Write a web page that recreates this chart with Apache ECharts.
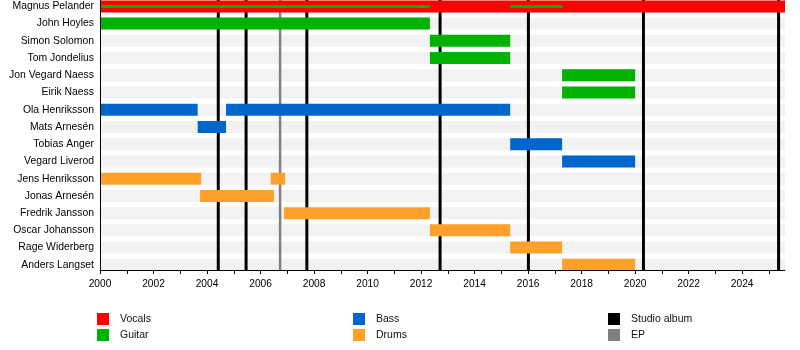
<!DOCTYPE html>
<html>
<head>
<meta charset="utf-8">
<script src="https://cdn.jsdelivr.net/npm/echarts@6/dist/echarts.min.js"></script>
<style>
  html, body { margin: 0; padding: 0; background: #fff; }
  #chart { width: 800px; height: 350px; }
</style>
</head>
<body>
<div id="chart"></div>
<script>
// Band line-up, top to bottom
const members = [
  'Magnus Pelander', 'John Hoyles', 'Simon Solomon', 'Tom Jondelius',
  'Jon Vegard Naess', 'Eirik Naess', 'Ola Henriksson', 'Mats Arnesén',
  'Tobias Anger', 'Vegard Liverod', 'Jens Henriksson', 'Jonas Arnesén',
  'Fredrik Jansson', 'Oscar Johansson', 'Rage Widerberg', 'Anders Langset'
];

const timelineStart = 2000;
const timelineEnd = 2025.6;
const yearTicks = [2000, 2001, 2002, 2003, 2004, 2005, 2006, 2007, 2008, 2009, 2010, 2011, 2012,
  2013, 2014, 2015, 2016, 2017, 2018, 2019, 2020, 2021, 2022, 2023, 2024, 2025];
const yearLabels = [2000, 2002, 2004, 2006, 2008, 2010, 2012, 2014, 2016, 2018, 2020, 2022, 2024];

// [member, from, to]
const vocals = [
  ['Magnus Pelander', 2000, 2025.6]
];
const guitar = [
  ['John Hoyles', 2000, 2012.33],
  ['Simon Solomon', 2012.33, 2015.33],
  ['Tom Jondelius', 2012.33, 2015.33],
  ['Jon Vegard Naess', 2017.27, 2020.0],
  ['Eirik Naess', 2017.27, 2020.0]
];
// guitar played alongside lead vocals
const guitarSecondary = [
  ['Magnus Pelander', 2000, 2012.33],
  ['Magnus Pelander', 2015.33, 2017.27]
];
const bass = [
  ['Ola Henriksson', 2000, 2003.65],
  ['Ola Henriksson', 2004.71, 2015.33],
  ['Mats Arnesén', 2003.65, 2004.71],
  ['Tobias Anger', 2015.33, 2017.27],
  ['Vegard Liverod', 2017.27, 2020.0]
];
const drums = [
  ['Jens Henriksson', 2000, 2003.78],
  ['Jens Henriksson', 2006.38, 2006.92],
  ['Jonas Arnesén', 2003.74, 2006.5],
  ['Fredrik Jansson', 2006.88, 2012.33],
  ['Oscar Johansson', 2012.33, 2015.33],
  ['Rage Widerberg', 2015.33, 2017.27],
  ['Anders Langset', 2017.27, 2020.0]
];

// release dates
const studioAlbums = [2004.42, 2005.46, 2007.73, 2012.71, 2016.01, 2020.31, 2025.36];
const eps = [2006.73];

const COLORS = {
  vocals: '#ff0000',
  guitar: '#00b200',
  bass: '#0066cc',
  drums: '#ffa02a',
  album: '#000000',
  ep: '#808080',
  band: '#f2f2f2'
};
const BAR_HEIGHT = 12;
const THIN_HEIGHT = 3;

const toRows = list => list.map(([name, from, to]) => [members.indexOf(name), from, to]);

function barRenderer(h) {
  return function (params, api) {
    const row = api.value(0);
    const p0 = api.coord([api.value(1), row]);
    const p1 = api.coord([api.value(2), row]);
    return {
      type: 'rect',
      shape: { x: p0[0], y: p0[1] - h / 2, width: p1[0] - p0[0], height: h },
      style: { fill: api.visual('color') }
    };
  };
}

function releaseRenderer(width) {
  return function (params, api) {
    const x = api.coord([api.value(0), 0])[0];
    const cs = params.coordSys;
    return {
      type: 'line',
      shape: { x1: x, y1: cs.y, x2: x, y2: cs.y + cs.height },
      style: { stroke: api.visual('color'), lineWidth: width }
    };
  };
}

function stripeRenderer(params, api) {
  const row = api.value(0);
  const p0 = api.coord([timelineStart, row]);
  const p1 = api.coord([timelineEnd, row]);
  return {
    type: 'rect',
    shape: { x: p0[0], y: p0[1] - BAR_HEIGHT / 2, width: p1[0] - p0[0], height: BAR_HEIGHT },
    style: { fill: COLORS.band }
  };
}

const font = 'Liberation Sans, Arial, sans-serif';
const chart = echarts.init(document.getElementById('chart'), null, { renderer: 'canvas' });

const barSeries = (name, data, color, h) => ({
  type: 'custom',
  name,
  renderItem: barRenderer(h),
  itemStyle: { color },
  encode: { x: [1, 2], y: 0 },
  data: toRows(data)
});

const releaseSeries = (name, years, color, w) => ({
  type: 'custom',
  name,
  renderItem: releaseRenderer(w),
  itemStyle: { color },
  encode: { x: 0, y: 1 },
  data: years.map(y => [y, 0])
});

const legendBase = {
  orient: 'vertical',
  icon: 'rect',
  itemWidth: 12,
  itemHeight: 12,
  itemGap: 4,
  padding: 0,
  selectedMode: false,
  textStyle: { fontFamily: font, fontSize: 10.5, color: '#111', padding: [1, 0, 0, 6] }
};

chart.setOption({
  animation: false,
  backgroundColor: '#fff',
  grid: { left: 100, top: 0, width: 685, height: 270 },
  xAxis: {
    type: 'value',
    min: timelineStart,
    max: timelineEnd,
    z: 10,
    splitLine: { show: false },
    axisLine: { show: true, onZero: false, lineStyle: { color: '#000', width: 1 } },
    axisTick: { show: true, length: 4, customValues: yearTicks, lineStyle: { color: '#000' } },
    axisLabel: {
      customValues: yearLabels,
      fontFamily: font, fontSize: 10.2, color: '#000', margin: 9,
      formatter: v => String(v)
    }
  },
  yAxis: {
    type: 'value',
    inverse: true,
    min: -0.371,
    max: 15.3,
    z: 10,
    splitLine: { show: false },
    axisLine: { show: true, onZero: false, lineStyle: { color: '#000', width: 1 } },
    axisTick: { show: false },
    axisLabel: {
      customValues: members.map((m, i) => i),
      formatter: v => members[Math.round(v)] || '',
      fontFamily: font, fontSize: 10.4, color: '#000', margin: 6
    }
  },
  legend: [
    Object.assign({}, legendBase, { data: ['Vocals', 'Guitar'], left: 97, top: 313 }),
    Object.assign({}, legendBase, { data: ['Bass', 'Drums'], left: 353, top: 313 }),
    Object.assign({}, legendBase, { data: ['Studio album', 'EP'], left: 608, top: 313 })
  ],
  series: [
    {
      type: 'custom',
      name: 'rows',
      renderItem: stripeRenderer,
      encode: { x: 1, y: 0 },
      silent: true,
      data: members.map((m, i) => [i, timelineStart])
    },
    releaseSeries('Studio album', studioAlbums, COLORS.album, 3),
    releaseSeries('EP', eps, COLORS.ep, 2.5),
    barSeries('Vocals', vocals, COLORS.vocals, BAR_HEIGHT),
    barSeries('Guitar', guitar, COLORS.guitar, BAR_HEIGHT),
    barSeries('Guitar', guitarSecondary, COLORS.guitar, THIN_HEIGHT),
    barSeries('Bass', bass, COLORS.bass, BAR_HEIGHT),
    barSeries('Drums', drums, COLORS.drums, BAR_HEIGHT)
  ]
});
</script>
</body>
</html>
